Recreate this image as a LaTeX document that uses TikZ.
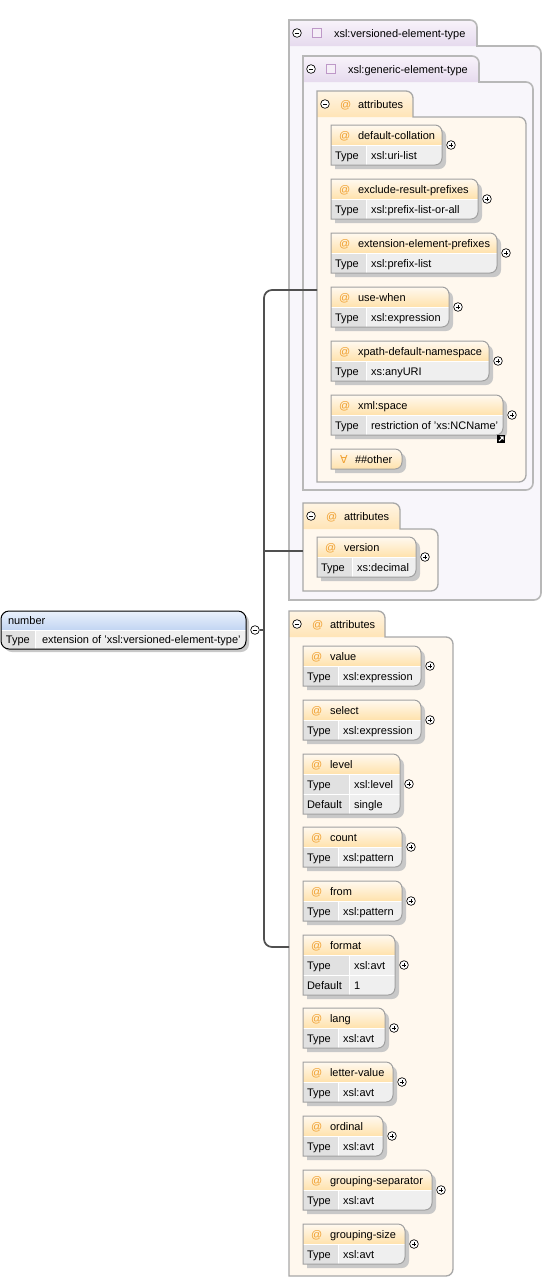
\documentclass[tikz,border=0pt]{standalone}
\usepackage{fontspec}
\setmainfont{Liberation Sans}
\newfontfamily\symbfont{DejaVu Sans}
\newcommand{\diagfont}{\fontsize{8.25}{10}\selectfont}

%% colours
\definecolor{atorange}{HTML}{F0A030}
\definecolor{attrtop}{HTML}{FFF9F0}
\definecolor{attrbot}{HTML}{FFE2AC}
\definecolor{rowcell}{HTML}{EFEFEF}
\definecolor{typecell}{HTML}{E1E1E1}
\definecolor{boxgrey}{HTML}{A0A0A0}
\definecolor{shadowgrey}{HTML}{C8C8C8}
\definecolor{attsfill}{HTML}{FFF8EE}
\definecolor{attstop}{HTML}{FFF5E4}
\definecolor{attsbot}{HTML}{FFE4B6}
\definecolor{attsline}{HTML}{A8A8A8}
\definecolor{cplxfill}{HTML}{F8F6FB}
\definecolor{cplxtop}{HTML}{F8F3FA}
\definecolor{cplxbot}{HTML}{E6DAEE}
\definecolor{cplxline}{HTML}{B8B8B8}
\definecolor{sqline}{HTML}{BE98C8}
\definecolor{sqfill}{HTML}{F5EEF7}
\definecolor{numtop}{HTML}{EAF1FC}
\definecolor{numbot}{HTML}{C2D5F2}
\definecolor{connline}{HTML}{505050}

%% box outline: square left corners, round right corners
\newcommand{\rshp}[4]{(#1,#2) -- ({#1+#3-7},#2) arc[start angle=-90,end angle=0,radius=7] -- ({#1+#3},{#2+#4-7}) arc[start angle=0,end angle=90,radius=7] -- (#1,{#2+#4}) -- cycle}
%% group outline: tab on top of a body
\newcommand{\grpshp}[5]{(#1,{#2+#5}) -- (#1,#2) -- ({#1+#3-7},#2) arc[start angle=-90,end angle=0,radius=7] -- ({#1+#3},{#2+26}) -- ({#1+#4-7},{#2+26}) arc[start angle=-90,end angle=0,radius=7] -- ({#1+#4},{#2+#5-7}) arc[start angle=0,end angle=90,radius=7] -- cycle}
\newcommand{\tabshp}[3]{(#1,{#2+26}) -- (#1,#2) -- ({#1+#3-7},#2) arc[start angle=-90,end angle=0,radius=7] -- ({#1+#3},{#2+26}) -- cycle}

\tikzset{
  lbl/.style={anchor=base west, inner sep=0pt, outer sep=0pt, font=\diagfont},
  atsign/.style={lbl, text=atorange},
  boxedge/.style={draw=boxgrey, line width=0.75pt},
  conn/.style={draw=connline, line width=1.3pt},
  cplx body/.style={fill=cplxfill},
  cplx tab/.style={top color=cplxtop, bottom color=cplxbot},
  cplx edge/.style={draw=cplxline, line width=1.2pt},
  atts body/.style={fill=attsfill},
  atts tab/.style={top color=attstop, bottom color=attsbot},
  atts edge/.style={draw=attsline, line width=1pt},
  minusicon/.style={circle, draw=black, line width=0.5pt, fill=white, inner sep=0pt,
    minimum size=6.5pt, path picture={
      \draw[line width=0.5pt] ([xshift=-1.7pt]path picture bounding box.center)
        -- ([xshift=1.7pt]path picture bounding box.center);}},
  plusicon/.style={circle, draw=black, line width=0.5pt, fill=white, inner sep=0pt,
    minimum size=6.5pt, path picture={
      \draw[line width=0.5pt] ([xshift=-1.7pt]path picture bounding box.center)
        -- ([xshift=1.7pt]path picture bounding box.center);
      \draw[line width=0.5pt] ([yshift=-1.7pt]path picture bounding box.center)
        -- ([yshift=1.7pt]path picture bounding box.center);}},
}

%% group box: x, y, tab width, body width, height, kind
\newcommand{\grpbox}[6]{%
  \fill[#6 body] \grpshp{#1}{#2}{#3}{#4}{#5};
  \shade[#6 tab] \tabshp{#1}{#2}{#3};
  \draw[#6 edge] \grpshp{#1}{#2}{#3}{#4}{#5};
}

%% attribute with a type row: name, x, y, width, label, type
\newcommand{\attrtwo}[6]{%
  \fill[shadowgrey] \rshp{#2+4}{#3+4}{#4}{40};
  \fill[rowcell] \rshp{#2}{#3}{#4}{40};
  \begin{scope}
    \clip \rshp{#2}{#3}{#4}{40};
    \shade[top color=attrtop, bottom color=attrbot] (#2,#3) rectangle ({#2+#4},{#3+20});
    \fill[typecell] (#2,{#3+20}) rectangle ({#2+35},{#3+40});
    \draw[white, line width=0.75pt] (#2,{#3+20}) -- ({#2+#4},{#3+20})
      ({#2+35},{#3+20}) -- ({#2+35},{#3+40});
  \end{scope}
  \draw[boxedge] \rshp{#2}{#3}{#4}{40};
  \node[atsign] (#1-at) at ({#2+8},{#3+14}) {@};
  \node[lbl] (#1) at ({#2+27},{#3+14}) {#5};
  \node[lbl] (#1-type) at ({#2+4},{#3+34}) {Type};
  \node[lbl] (#1-val) at ({#2+40},{#3+34}) {#6};
  \node[plusicon] (#1-plus) at ({#2+#4+9},{#3+20}) {};
}

%% attribute with type and default rows: name, x, y, width, label, type, default
\newcommand{\attrthree}[7]{%
  \fill[shadowgrey] \rshp{#2+4}{#3+4}{#4}{60};
  \fill[rowcell] \rshp{#2}{#3}{#4}{60};
  \begin{scope}
    \clip \rshp{#2}{#3}{#4}{60};
    \shade[top color=attrtop, bottom color=attrbot] (#2,#3) rectangle ({#2+#4},{#3+20});
    \fill[typecell] (#2,{#3+20}) rectangle ({#2+46},{#3+60});
    \draw[white, line width=0.75pt] (#2,{#3+20}) -- ({#2+#4},{#3+20})
      (#2,{#3+40}) -- ({#2+#4},{#3+40})
      ({#2+46},{#3+20}) -- ({#2+46},{#3+60});
  \end{scope}
  \draw[boxedge] \rshp{#2}{#3}{#4}{60};
  \node[atsign] (#1-at) at ({#2+8},{#3+14}) {@};
  \node[lbl] (#1) at ({#2+27},{#3+14}) {#5};
  \node[lbl] (#1-type) at ({#2+4},{#3+34}) {Type};
  \node[lbl] (#1-val) at ({#2+51},{#3+34}) {#6};
  \node[lbl] (#1-dflt) at ({#2+4},{#3+54}) {Default};
  \node[lbl] (#1-dval) at ({#2+51},{#3+54}) {#7};
  \node[plusicon] (#1-plus) at ({#2+#4+9},{#3+30}) {};
}

\begin{document}
\begin{tikzpicture}[x=0.75pt, y=-0.75pt]
  \fill[white] (0,0) rectangle (549,1279);
  \useasboundingbox (0,0) rectangle (549,1279);

  %% complex types
  \grpbox{289}{20}{188}{252}{580}{cplx}
  \node[minusicon] (vers-minus) at (297,33) {};
  \draw[sqline, fill=sqfill, line width=0.75pt] (312,28.5) rectangle (321,37.5);
  \node[lbl] (vers) at (334,37) {xsl:versioned-element-type};

  \grpbox{303}{56}{176}{230}{434}{cplx}
  \node[minusicon] (gen-minus) at (311,69) {};
  \draw[sqline, fill=sqfill, line width=0.75pt] (326,64.5) rectangle (335,73.5);
  \node[lbl] (gen) at (348,73) {xsl:generic-element-type};

  %% first attributes group
  \grpbox{317}{91}{96}{209}{391}{atts}
  \node[minusicon] (atts1-minus) at (325,104) {};
  \node[atsign] (atts1-at) at (340,108) {@};
  \node[lbl] (atts1) at (358,108) {attributes};

  \attrtwo{defcoll}{331}{125}{111}{default-collation}{xsl:uri-list}
  \attrtwo{exclpref}{331}{179}{147}{exclude-result-prefixes}{xsl:prefix-list-or-all}
  \attrtwo{extpref}{331}{233}{166}{extension-element-prefixes}{xsl:prefix-list}
  \attrtwo{usewhen}{331}{287}{118}{use-when}{xsl:expression}
  \attrtwo{xpathns}{331}{341}{158}{xpath-default-namespace}{xs:anyURI}
  \attrtwo{xmlspace}{331}{395}{172}{xml:space}{restriction of 'xs:NCName'}
  % link icon
  \fill[black] (497,435) rectangle (505,443);
  \draw[white, line width=0.8pt] (499,441) -- (502.5,437.5);
  \fill[white] (503.6,436.4) -- (499.8,436.4) -- (503.6,440.2) -- cycle;
  % any attribute
  \fill[shadowgrey] \rshp{335}{453}{71}{20};
  \shade[top color=attrtop, bottom color=attrbot] \rshp{331}{449}{71}{20};
  \draw[boxedge] \rshp{331}{449}{71}{20};
  \node[atsign, font=\symbfont\diagfont] (other-any) at (340,463) {∀};
  \node[lbl] (other) at (355,463) {\#\#other};

  %% second attributes group
  \grpbox{303}{503}{97}{135}{88}{atts}
  \node[minusicon] (atts2-minus) at (311,516) {};
  \node[atsign] (atts2-at) at (326,520) {@};
  \node[lbl] (atts2) at (344,520) {attributes};
  \attrtwo{version}{317}{537}{99}{version}{xs:decimal}

  %% third attributes group
  \grpbox{289}{611}{96}{164}{665}{atts}
  \node[minusicon] (atts3-minus) at (297,624) {};
  \node[atsign] (atts3-at) at (312,628) {@};
  \node[lbl] (atts3) at (330,628) {attributes};

  \attrtwo{value}{303}{646}{118}{value}{xsl:expression}
  \attrtwo{select}{303}{700}{118}{select}{xsl:expression}
  \attrthree{level}{303}{754}{97}{level}{xsl:level}{single}
  \attrtwo{count}{303}{827}{99}{count}{xsl:pattern}
  \attrtwo{from}{303}{881}{99}{from}{xsl:pattern}
  \attrthree{format}{303}{935}{92}{format}{xsl:avt}{1}
  \attrtwo{lang}{303}{1008}{82}{lang}{xsl:avt}
  \attrtwo{letterval}{303}{1062}{90}{letter-value}{xsl:avt}
  \attrtwo{ordinal}{303}{1116}{80}{ordinal}{xsl:avt}
  \attrtwo{groupsep}{303}{1170}{129}{grouping-separator}{xsl:avt}
  \attrtwo{groupsize}{303}{1224}{102}{grouping-size}{xsl:avt}

  %% the element
  \fill[shadowgrey, rounded corners=6pt] (4,614) rectangle (249,652);
  \fill[rowcell, rounded corners=6pt] (1,611) rectangle (246,649);
  \begin{scope}
    \clip[rounded corners=6pt] (1,611) rectangle (246,649);
    \shade[top color=numtop, bottom color=numbot] (1,611) rectangle (246,630);
    \fill[typecell] (1,630) rectangle (35,649);
    \draw[white, line width=0.75pt] (1,630) -- (246,630) (35,630) -- (35,649);
  \end{scope}
  \draw[black, line width=0.75pt, rounded corners=6pt] (1,611) rectangle (246,649);
  \node[lbl] (number) at (8,624.5) {number};
  \node[lbl] (number-type) at (6,643.5) {Type};
  \node[lbl] (number-val) at (42,643.5) {extension of 'xsl:versioned-element-type'};
  \node[minusicon] (number-minus) at (255,630) {};

  %% connectors
  \coordinate (jn) at (264,630);
  \coordinate (atts1-in) at (317,290);
  \coordinate (atts2-in) at (303,551);
  \coordinate (atts3-in) at (289,947);
  \draw[conn] (number-minus.east) -- (jn);
  \draw[conn, rounded corners=6pt] (atts1-in) -| (jn) |- (atts3-in);
  \draw[conn] (jn |- atts2-in) -- (atts2-in);
\end{tikzpicture}
\end{document}
